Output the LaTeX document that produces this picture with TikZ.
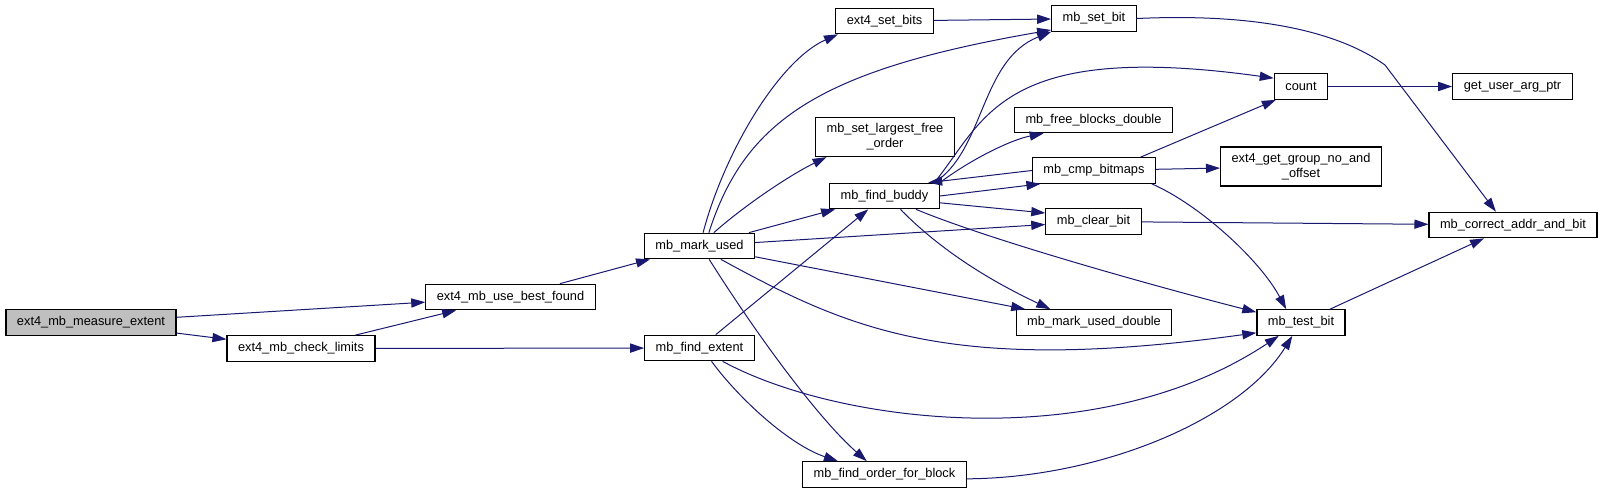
\documentclass[tikz,border=0pt]{standalone}
\usepackage{fontspec}
\usepackage{tikz}
\usetikzlibrary{arrows.meta,positioning}
\newfontfamily\dxfont{Liberation Sans}
\definecolor{dxedge}{HTML}{191970}
\definecolor{dxroot}{HTML}{BFBFBF}

\begin{document}
\begin{tikzpicture}[
    x=0.5pt, y=-0.5pt,
    box/.style={draw, line width=0.6pt, inner xsep=5.5pt, inner ysep=1pt, minimum height=12.75pt, align=center, font=\dxfont\fontsize{6.4}{7.5}\selectfont},
    tall/.style={minimum height=19.5pt},
    arrow/.style={-{Triangle[length=7pt, width=4.6pt]}, dxedge, line width=0.5pt}
]
\useasboundingbox (0,0) rectangle (1603,493);

% Caller
\node[box, fill=dxroot] (measure) at (91,322.5) {ext4\_mb\_measure\_extent};

% First level
\node[box] (check) at (301,348.5) {ext4\_mb\_check\_limits};
\node[box] (best) at (510.5,297) {ext4\_mb\_use\_best\_found};

% Second level
\node[box] (mark) at (699.5,246) {mb\_mark\_used};
\node[box] (extent) at (699.5,348) {mb\_find\_extent};

% Third level
\node[box] (setbits) at (884.5,21) {ext4\_set\_bits};
\node[box, tall] (largest) at (885,137) {mb\_set\_largest\_free\\\_order};
\node[box] (buddy) at (884.5,196) {mb\_find\_buddy};
\node[box] (order) at (884.5,474.5) {mb\_find\_order\_for\_block};

% Fourth level
\node[box] (setbit) at (1094,18.5) {mb\_set\_bit};
\node[box] (freeblk) at (1093.5,120) {mb\_free\_blocks\_double};
\node[box] (cmp) at (1094,170.5) {mb\_cmp\_bitmaps};
\node[box] (clear) at (1093.5,221.5) {mb\_clear\_bit};
\node[box] (markdbl) at (1094,322.5) {mb\_mark\_used\_double};

% Fifth level
\node[box] (count) at (1301,86.5) {count};
\node[box, tall] (group) at (1301,166.5) {ext4\_get\_group\_no\_and\\\_offset};
\node[box] (testbit) at (1301,322.5) {mb\_test\_bit};

% Leaves
\node[box] (userarg) at (1512.5,86.5) {get\_user\_arg\_ptr};
\node[box] (correct) at (1513,225) {mb\_correct\_addr\_and\_bit};

% Arrows
\draw[arrow] (measure) -- (best);
\draw[arrow] (measure) -- (check);
\draw[arrow] (check) -- (best);
\draw[arrow] (check) -- (extent);
\draw[arrow] (best) -- (mark);

\draw[arrow] (mark.75) .. controls (725,150) and (780,60) .. (setbits.196);
\draw[arrow] (mark.55) .. controls (745,120) and (820,70) .. (setbit.195);
\draw[arrow] (mark.43) .. controls (745,205) and (790,175) .. (largest.199);
\draw[arrow] (mark) -- (buddy);
\draw[arrow] (mark) -- (clear);
\draw[arrow] (mark) -- (markdbl);
\draw[arrow] (mark.-32) .. controls (850,330) and (950,375) .. (testbit.193);
\draw[arrow] (mark.-54) .. controls (760,340) and (820,420) .. (order.143);

\draw[arrow] (extent) -- (buddy);
\draw[arrow] (extent.-48) .. controls (740,400) and (790,445) .. (order.164);
\draw[arrow] (extent.-30) .. controls (840,425) and (1100,455) .. (testbit.211);
\draw[arrow] (order.-3) .. controls (1100,478) and (1240,420) .. (testbit.237);

\draw[arrow] (setbits) -- (setbit);

\draw[arrow] (buddy.15) .. controls (985,150) and (980,60) .. (setbit.south west);
\draw[arrow] (buddy.15) .. controls (985,120) and (1000,40) .. (count.163);
\draw[arrow] (buddy.north east) .. controls (970,160) and (1010,140) .. (freeblk.195);
\draw[arrow] (buddy.east) -- (cmp.194);
\draw[arrow] (cmp.west) -- (buddy.17);
\draw[arrow] (buddy.-7) -- (clear.170);
\draw[arrow] (buddy.-40) .. controls (950,260) and (1010,290) .. (markdbl.163);
\draw[arrow] (buddy.-23) .. controls (990,240) and (1150,285) .. (testbit.167);

\draw[arrow] (cmp.16) -- (count.208);
\draw[arrow] (cmp) -- (group);
\draw[arrow] (cmp.-13) .. controls (1200,205) and (1260,260) .. (testbit.138);

\draw[arrow] (clear) -- (correct);
\draw[arrow] (count) -- (userarg);
\draw[arrow] (setbit.east) .. controls (1280,12) and (1350,40) .. (1385,65) -- (correct.142);
\draw[arrow] (testbit) -- (correct);
\end{tikzpicture}
\end{document}
